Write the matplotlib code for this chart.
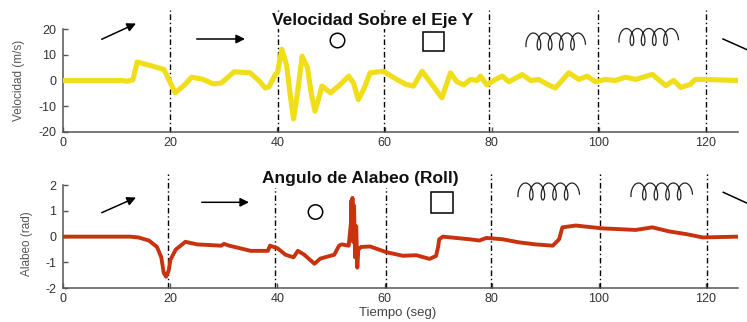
import numpy as np
import matplotlib
matplotlib.use("Agg")
import matplotlib.pyplot as plt
from matplotlib.patches import Ellipse, Rectangle
from matplotlib.lines import Line2D

# ---------------- data ----------------
vel_t = [0, 11, 12, 13, 13.8, 16, 18.8, 20.9, 22.5, 24, 26, 28, 29.5, 31.9, 34.9, 36.5,
         37.7, 38.4, 39.6, 40.0, 40.8, 41.7, 42.4, 43.0, 43.8, 44.6, 45.6, 46.3, 47.0,
         47.7, 48.3, 49.9, 51.5, 53.3, 54.2, 55.1, 56.2, 57.3, 59.8, 61.0, 62.9, 64.0,
         65.4, 67.0, 68.5, 70.7, 72.3, 73.5, 74.8, 76.0, 77.3, 77.9, 79.1, 80.7, 82.0,
         83.2, 85.7, 87.3, 88.8, 90.4, 91.9, 94.4, 96.3, 97.8, 99.4, 101.2, 103.1, 105.0,
         106.9, 110.0, 112.5, 114.0, 115.3, 117.1, 118.0, 119.9, 126]
vel_v = [0, 0, -0.3, 0.3, 7.2, 6.0, 4.3, -4.8, -2.0, 1.3, 0.5, -1.3, -1.0, 3.4, 3.0, 0.0,
         -2.9, -2.5, 2.4, 3.0, 12.2, 6.0, -6.0, -15.0, -4.0, 9.5, 5.0, -5.0, -12.0,
         -7.0, -2.2, -4.8, -2.0, 1.7, -1.0, -7.5, -3.0, 3.0, 3.6, 2.0, -0.3, -1.5,
         -2.2, 3.6, -0.5, -6.8, 3.0, -0.5, -1.7, 0.4, 0.0, 1.7, -1.7, 0.4, 1.7,
         -0.5, 2.3, 0.0, 0.4, -1.5, -2.9, 3.0, 0.4, 1.7, -0.5, 0.4, 0.0, 1.3,
         0.4, 2.4, -2.0, 0.0, -2.7, -1.5, 0.4, 0.4, 0.0]

roll_t = [0, 12.5, 14, 16, 17.5, 18.3, 18.75, 19.2, 19.7, 20, 21, 22.8, 25, 29.5, 30, 31,
          35, 38.2, 38.6, 40, 41.5, 43, 43.8, 45, 46.9, 48, 50.6, 51.5, 52, 53.3,
          53.7, 53.8, 53.9, 54.0, 54.1, 54.3, 54.5, 54.7, 54.9, 55.1, 55.6, 57.3,
          60.3, 63.4, 65.9, 68.4, 69.6, 70.0, 70.2, 70.9, 75.8, 77.7, 79.0, 82.0,
          85.1, 88.2, 91.4, 92.6, 93.2, 95.7, 100.7, 106.9, 110.0, 113.2, 116.3,
          119.4, 126]
roll_v = [0, 0, -0.03, -0.15, -0.4, -0.8, -1.4, -1.55, -1.3, -0.9, -0.5, -0.2, -0.3, -0.35,
          -0.28, -0.35, -0.55, -0.55, -0.35, -0.45, -0.7, -0.8, -0.55, -0.7, -1.05, -0.85,
          -0.7, -0.35, -0.3, -0.35, 0.5, 1.4, 0.2, 1.5, -0.2, 1.2, -0.8, 0.4, -1.2, -0.5,
          -0.4, -0.38, -0.6, -0.74, -0.72, -0.86, -0.75, -0.4, -0.1, 0.0, -0.1, -0.15,
          -0.05, -0.1, -0.22, -0.3, -0.35, -0.1, 0.36, 0.43, 0.32, 0.26, 0.36, 0.2, 0.1,
          -0.03, 0.0]

vlines_top = [20, 40.1, 59.8, 79.5, 99.9, 120]
vlines_bot = [19.6, 39.6, 60.2, 79.8, 100.2, 120.3]
xticks = [0, 20, 40, 60, 80, 100, 120]
vel_ticks = [-20, -10, 0, 10, 20]
roll_ticks = [-2, -1, 0, 1, 2]

title_top = "Velocidad Sobre el Eje Y"
title_bot = "Angulo de Alabeo (Roll)"
ylabel_top = "Velocidad (m/s)"
ylabel_bot = "Alabeo (rad)"
xlabel = "Tiempo (seg)"

# ---------------- figure ----------------
W, H = 747, 322
plt.rcParams['font.family'] = ['Liberation Sans', 'DejaVu Sans']
plt.rcParams['axes.unicode_minus'] = False
fig = plt.figure(figsize=(W / 100, H / 100), dpi=100)

def fx(px):
    return px / W

def fy(py):
    return 1 - py / H

ax1 = fig.add_axes([fx(63.3), fy(131.7), (738 - 63.3) / W, 102.4 / H])
ax2 = fig.add_axes([fx(63.3), fy(288.3), (738 - 63.3) / W, 103.3 / H])

spine_c = '#555555'
for ax in (ax1, ax2):
    ax.set_xlim(0, 126)
    ax.set_xticks(xticks)
    for s in ('top', 'right'):
        ax.spines[s].set_visible(False)
    for s in ('left', 'bottom'):
        ax.spines[s].set_color(spine_c)
        ax.spines[s].set_linewidth(1.1)
    ax.tick_params(direction='in', length=3.5, width=1, color=spine_c,
                   labelsize=9, labelcolor='#333333')
    ax.tick_params(axis='y', pad=5.0)
    ax.tick_params(axis='x', pad=3.5)
    ax.patch.set_alpha(0)

ax1.set_ylim(-20, 20)
ax1.set_yticks(vel_ticks)
ax2.set_ylim(-2, 2)
ax2.set_yticks(roll_ticks)

ax1.plot(vel_t, vel_v, color='#F0DE1A', lw=3.7, solid_joinstyle='round',
         solid_capstyle='round', zorder=3)
ax2.plot(roll_t, roll_v, color='#C8320E', lw=2.8, solid_joinstyle='round', zorder=3)

for x in vlines_top:
    ax1.axvline(x, ymin=0, ymax=(131.7 - 10) / 102.4, color='black', lw=1.0,
                ls=(0, (4, 2, 1, 2)), clip_on=False, zorder=2)
for x in vlines_bot:
    ax2.axvline(x, ymin=0, ymax=(288.3 - 174) / 103.3, color='black', lw=1.0,
                ls=(0, (4, 2, 1, 2)), clip_on=False, zorder=2)

# titles and labels
fig.text(fx(372.5), fy(25), title_top, ha='center', va='baseline', fontsize=12.5,
         fontweight='bold', color='#111111',
         bbox=dict(facecolor='white', edgecolor='none', pad=1), zorder=5)
fig.text(fx(360.5), fy(183.3), title_bot, ha='center', va='baseline', fontsize=12.5,
         fontweight='bold', color='#111111',
         bbox=dict(facecolor='white', edgecolor='none', pad=1), zorder=5)
fig.text(fx(19), fy(80.5), ylabel_top, rotation=90, ha='center', va='center',
         fontsize=8.5, color='#555555')
fig.text(fx(27), fy(244), ylabel_bot, rotation=90, ha='center', va='center',
         fontsize=8.5, color='#555555')
fig.text(fx(398), fy(313), xlabel, ha='center', va='center', fontsize=9.5,
         color='#444444')

# ---------------- hand-drawn annotations ----------------
def arrow(p0, p1):
    fig.add_artist(matplotlib.patches.FancyArrowPatch(
        (fx(p0[0]), fy(p0[1])), (fx(p1[0]), fy(p1[1])),
        transform=fig.transFigure, arrowstyle='-|>', mutation_scale=13,
        color='black', lw=1.1, shrinkA=0, shrinkB=0))

def circle(cx, cy, d):
    fig.add_artist(Ellipse((fx(cx), fy(cy)), d / W, d / H, transform=fig.transFigure,
                           fill=False, edgecolor='black', lw=1.1))

def square(x0, y0, x1, y1):
    fig.add_artist(Rectangle((fx(x0), fy(y1)), (x1 - x0) / W, (y1 - y0) / H,
                             transform=fig.transFigure, fill=False,
                             edgecolor='black', lw=1.1))

def spiral(x0, yc, width, height):
    t = np.linspace(0.3 * np.pi, 9.6 * np.pi, 600)
    r = width / (9.3 * np.pi)
    a = 0.5 * height / 2
    b = height / 2
    xs = x0 + r * (t - 0.3 * np.pi) - a * np.sin(t) + a * np.sin(0.3 * np.pi)
    ys = yc + b * np.cos(t)
    fig.add_artist(Line2D(fx(xs), fy(ys), transform=fig.transFigure,
                          color='#222222', lw=0.9))

def edge_line(p0, p1):
    fig.add_artist(Line2D([fx(p0[0]), fx(p1[0])], [fy(p0[1]), fy(p1[1])],
                          transform=fig.transFigure, color='black', lw=1.1))

# top panel
arrow((101.7, 39.3), (136, 23.5))
arrow((196.7, 39), (245, 39))
circle(337.5, 40.5, 14.5)
square(422.7, 31.7, 444, 50.7)
spiral(526, 41.5, 52, 17)
spiral(619, 37, 52, 17)
edge_line((723, 39), (750, 51))

# bottom panel
arrow((101.7, 212.7), (136, 197.5))
arrow((201.7, 202.3), (249, 202.3))
circle(315.5, 212, 14.4)
square(431, 192.3, 453.3, 212.7)
spiral(518, 191.5, 54, 17)
spiral(631, 191.5, 54, 17)
edge_line((723.3, 192.3), (750, 204.5))

fig.savefig('out.png', dpi=100)
